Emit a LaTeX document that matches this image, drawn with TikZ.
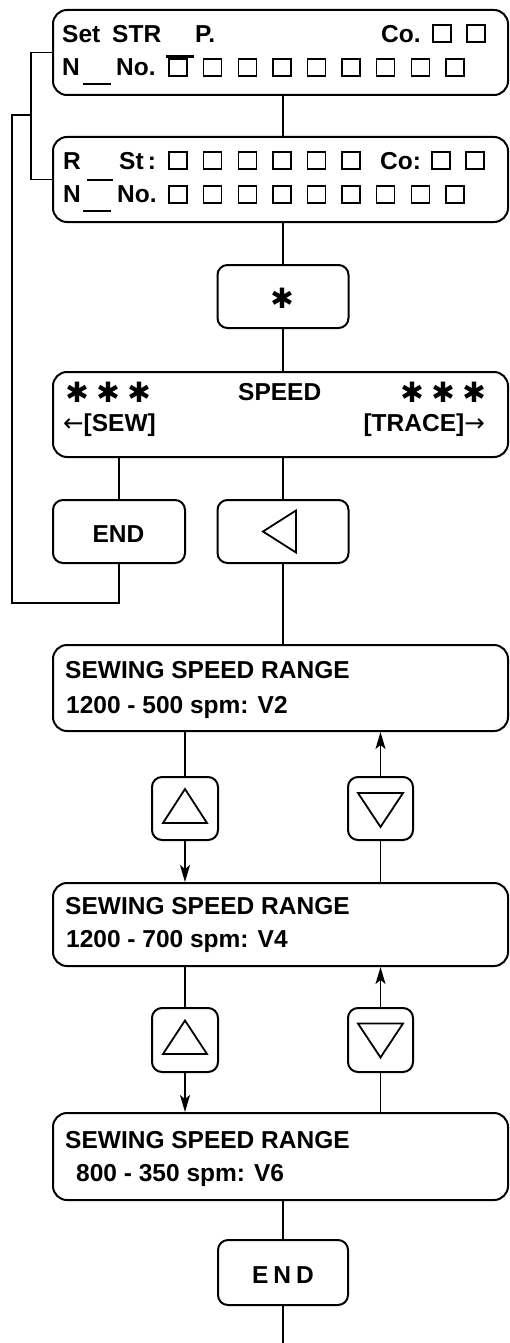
\documentclass[tikz,border=0pt]{standalone}
\usepackage{fontspec}
\setmainfont{Liberation Sans}
\newfontfamily\djv{DejaVu Sans}
\usetikzlibrary{arrows.meta,calc}
\begin{document}
\begin{tikzpicture}[x=1pt,y=-1pt,
  box/.style={draw, line width=2pt, rounded corners=14pt, inner sep=0pt},
  smallbox/.style={draw, line width=2pt, rounded corners=10pt, inner sep=0pt},
  txt/.style={anchor=base west, inner sep=0pt, font=\bfseries\fontsize{24.5}{24.5}\selectfont},
  txtr/.style={txt, anchor=base east},
  txtc/.style={txt, anchor=base},
  starsym/.style={inner sep=0pt, font=\djv\fontsize{28}{28}\selectfont},
  conn/.style={line width=1.6pt},
  arr/.style={conn, -{Stealth[length=17pt,width=10pt,inset=4pt]}},
  sq/.style={line width=1.4pt},
  bar/.style={line width=1.8pt},
  tri/.style={line width=1.8pt, line join=miter}]
\useasboundingbox (0,0) rectangle (509,1343);

% ---------- boxes ----------
\node[box, minimum width=455pt, minimum height=85pt] (b1) at (280.5,52.5) {};
\node[box, minimum width=455pt, minimum height=85pt] (b2) at (280.5,179.5) {};
\node[smallbox, minimum width=131pt, minimum height=63pt] (star) at (283,296.5) {};
\node[box, minimum width=455pt, minimum height=85pt] (speed) at (280.5,414.5) {};
\node[smallbox, minimum width=132pt, minimum height=63pt] (end1) at (119,531.5) {};
\node[smallbox, minimum width=131pt, minimum height=63pt] (left) at (283,531.5) {};
\node[box, minimum width=455pt, minimum height=86pt] (s1) at (280.5,688) {};
\node[smallbox, minimum width=66pt, minimum height=63pt] (up1) at (185,808.5) {};
\node[smallbox, minimum width=65pt, minimum height=63pt] (dn1) at (380.5,808.5) {};
\node[box, minimum width=455pt, minimum height=83pt] (s2) at (280.5,924.5) {};
\node[smallbox, minimum width=66pt, minimum height=64pt] (up2) at (185,1040) {};
\node[smallbox, minimum width=65pt, minimum height=64pt] (dn2) at (380.5,1040) {};
\node[box, minimum width=455pt, minimum height=87pt] (s3) at (280.5,1156.5) {};
\node[smallbox, minimum width=130pt, minimum height=65pt] (end2) at (283,1272.5) {};

% ---------- box 1 texts ----------
\node[txt] (t1a) at (62,43) {Set};
\node[txt] (t1b) at (112,43) {STR};
\node[txt] (t1c) at (195,43) {P.};
\node[txt] (t1d) at (381,43) {Co.};
\foreach \x in {433,467} \draw[sq] (\x,25) rectangle ++(18,17);
\node[txt] (t1e) at (62,76) {N};
\draw[bar] (83,84) -- (111,84);
\node[txt] (t1f) at (116,76) {No.};
\foreach \k in {0,...,8} \draw[sq] ({169+34.6*\k},59) rectangle ++(18,17);
\draw[line width=2.4pt] (166,56.5) -- (194,56.5);

% ---------- box 2 texts ----------
\node[txt] (t2a) at (63,170) {R};
\draw[bar] (87,180) -- (113,180);
\node[txt] (t2b) at (119,170) {St\,:};
\foreach \k in {0,...,5} \draw[sq] ({169+34.6*\k},152) rectangle ++(18,17);
\node[txt] (t2c) at (380,170) {Co:};
\foreach \x in {432,466} \draw[sq] (\x,152) rectangle ++(18,17);
\node[txt] (t2d) at (63,203) {N};
\draw[bar] (83,211) -- (111,211);
\node[txt] (t2e) at (117,203) {No.};
\foreach \k in {0,...,8} \draw[sq] ({169+34.6*\k},186) rectangle ++(18,17);

% ---------- star box ----------
\node[starsym] (st0) at (282,298) {✱};

% ---------- speed box ----------
\node[starsym] (sa1) at (77,392) {✱};
\node[starsym] (sa2) at (108,392) {✱};
\node[starsym] (sa3) at (139,392) {✱};
\node[txt] (sp) at (238,400) {SPEED};
\node[starsym] (sb1) at (412,392) {✱};
\node[starsym] (sb2) at (443,392) {✱};
\node[starsym] (sb3) at (474,392) {✱};
\node[txt] (sew) at (63,431) {{\djv\mdseries ←}[SEW]};
\node[txtr] (trace) at (485,431) {[TRACE]{\djv\mdseries →}};

% ---------- END / left ----------
\node[txtc] (te1) at (118.5,542) {END};
\draw[tri] ($(left)+(-20,0)$) -- ($(left)+(13,-21)$) -- ($(left)+(13,21)$) -- cycle;

% ---------- sewing boxes ----------
\node[txt] (r1a) at (65,678) {SEWING SPEED RANGE};
\node[txt] (r1b) at (66,713) {1200 - 500 spm: V2};
\node[txt] (r2a) at (65,914) {SEWING SPEED RANGE};
\node[txt] (r2b) at (66,947) {1200 - 700 spm: V4};
\node[txt] (r3a) at (65,1148) {SEWING SPEED RANGE};
\node[txt] (r3b) at (76,1181) {800 - 350 spm: V6};

% triangles
\draw[tri] ($(up1)+(0,-19.5)$) -- ($(up1)+(22,14.5)$) -- ($(up1)+(-22,14.5)$) -- cycle;
\draw[tri] ($(dn1)+(0,18.5)$) -- ($(dn1)+(22.5,-15.5)$) -- ($(dn1)+(-22.5,-15.5)$) -- cycle;
\draw[tri] ($(up2)+(0,-19.5)$) -- ($(up2)+(22,14)$) -- ($(up2)+(-22,14)$) -- cycle;
\draw[tri] ($(dn2)+(0,17.5)$) -- ($(dn2)+(22.5,-16.5)$) -- ($(dn2)+(-22.5,-16.5)$) -- cycle;

% ---------- END bottom ----------
\node[txtc] (te2) at (283,1283) {E\hspace{5pt}N\hspace{5pt}D};

% ---------- connectors ----------
\draw[conn] (star.north |- b1.south) -- (star.north |- b2.north);
\draw[conn] (star.north |- b2.south) -- (star.north);
\draw[conn] (star.south) -- (star.south |- speed.north);
\draw[conn] (end1.north |- speed.south) -- (end1.north);
\draw[conn] (left.north |- speed.south) -- (left.north);
\draw[conn] (left.south) -- (left.south |- s1.north);
\coordinate (j) at (32,115);
\coordinate (lc) at (12,603);
\draw[conn] (b1.west) -- ++(-21,0) |- (b2.west);
\draw[conn] (end1.south) |- (lc) |- (j);
\draw[conn] (up1.north |- s1.south) -- (up1.north);
\draw[arr] (up1.south) -- (up1.south |- s2.north);
\draw[arr] (dn1.north) -- (dn1.north |- s1.south);
\draw[conn] (dn1.south |- s2.north) -- (dn1.south);
\draw[conn] (up2.north |- s2.south) -- (up2.north);
\draw[arr] (up2.south) -- (up2.south |- s3.north);
\draw[arr] (dn2.north) -- (dn2.north |- s2.south);
\draw[conn] (dn2.south |- s3.north) -- (dn2.south);
\draw[conn] (end2.north |- s3.south) -- (end2.north);
\coordinate (bot) at (283,1343);
\draw[conn] (end2.south) -- (bot);
\end{tikzpicture}
\end{document}
